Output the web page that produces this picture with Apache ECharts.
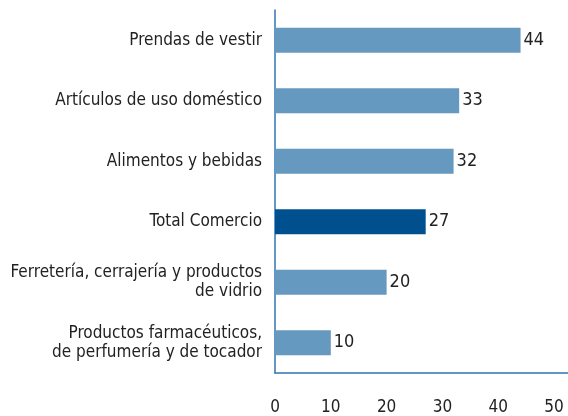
<!DOCTYPE html>
<html>
<head>
<meta charset="utf-8">
<script src="https://cdn.jsdelivr.net/npm/echarts@6/dist/echarts.min.js"></script>
<style>
  html, body { margin: 0; padding: 0; background: #fff; }
  #chart { width: 568px; height: 416px; }
</style>
</head>
<body>
<div id="chart"></div>
<script>
  // categories from bottom to top (ECharts draws category axis upwards)
  var categorias = [
    'Productos farmacéuticos,\nde perfumería y de tocador',
    'Ferretería, cerrajería y productos\nde vidrio',
    'Total Comercio',
    'Alimentos y bebidas',
    'Artículos de uso doméstico',
    'Prendas de vestir'
  ]
  var valores = [10, 20, 27, 32, 33, 44]
  var destacado = 'Total Comercio'
  var ticksX = [0, 10, 20, 30, 40, 50]

  var fuente = 'DejaVu Sans Condensed, DejaVu Sans, sans-serif'
  var myChart = echarts.init(document.getElementById('chart'))

  var datos = valores.map(function (v, i) {
    return {
      value: v,
      itemStyle: {color: categorias[i] === destacado ? '#00508f' : '#6699c0'}
    }
  })

  var option = {
    animation: false,
    grid: {left: 275, right: 0, top: 10, bottom: 39, containLabel: false},
    xAxis: {
      type: 'value',
      min: ticksX[0],
      max: 52.5,
      interval: 10,
      axisLine: {show: true, lineStyle: {color: '#2e75b6', width: 1.5}},
      axisTick: {show: false},
      splitLine: {show: false},
      axisLabel: {
        showMaxLabel: false,
        margin: 26,
        color: '#222',
        fontSize: 17,
        fontFamily: fuente
      }
    },
    yAxis: {
      type: 'category',
      data: categorias,
      axisLine: {show: true, lineStyle: {color: '#2e75b6', width: 1.5}},
      axisTick: {show: false},
      axisLabel: {
        margin: 13,
        color: '#222',
        fontSize: 17,
        lineHeight: 19,
        align: 'right',
        fontFamily: fuente
      }
    },
    series: [
      {
        type: 'bar',
        barWidth: 25,
        data: datos,
        label: {
          show: true,
          position: 'right',
          distance: 3,
          color: '#222',
          fontSize: 18,
          fontFamily: fuente
        }
      }
    ]
  }

  myChart.setOption(option)
</script>
</body>
</html>
